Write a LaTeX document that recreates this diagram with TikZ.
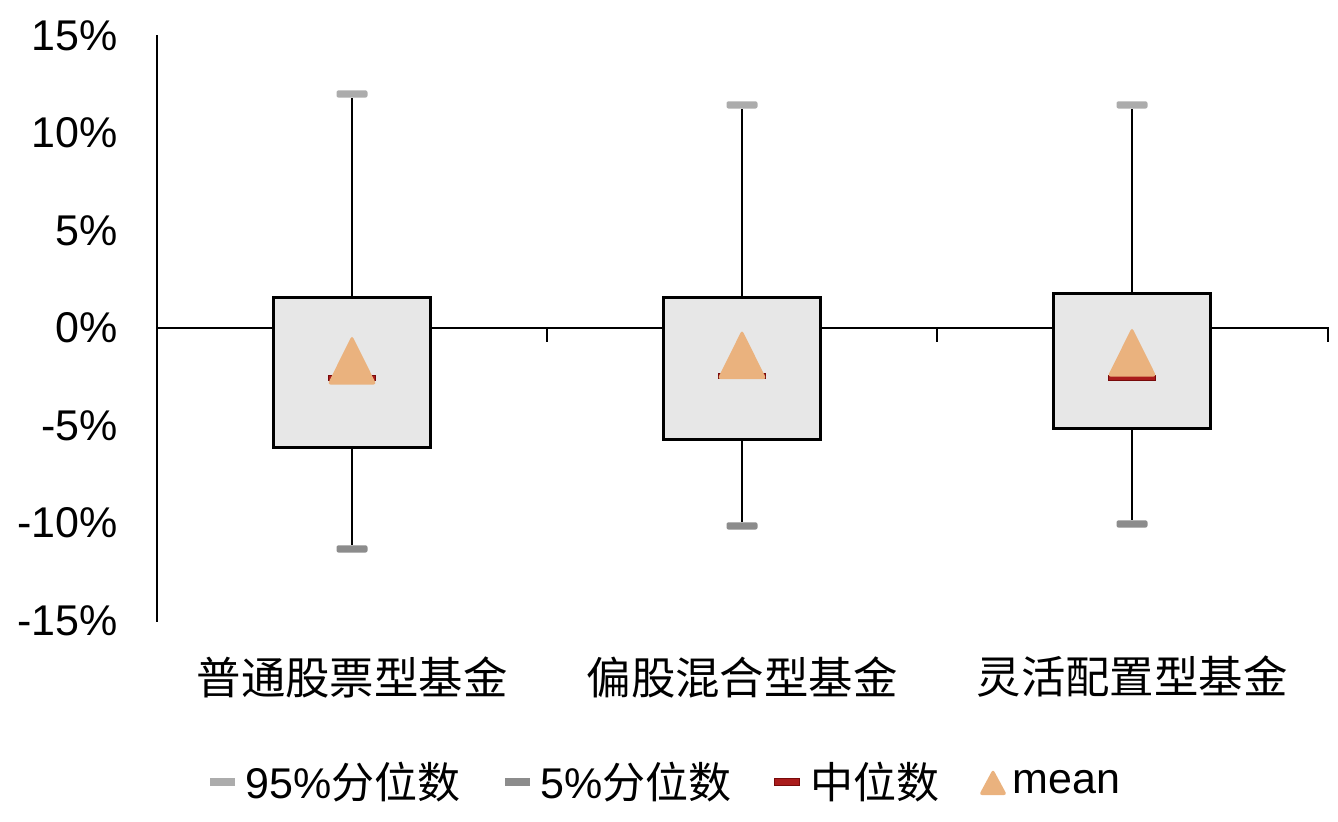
\documentclass[tikz,border=0pt]{standalone}
\usepackage{fontspec}
\setmainfont{Liberation Sans}
\newfontfamily\cjk{Noto Sans CJK SC}
\usepackage{tikz}
\usetikzlibrary{positioning}
\definecolor{boxgray}{RGB}{231,231,231}
\definecolor{capup}{RGB}{172,172,172}
\definecolor{capdn}{RGB}{140,140,140}
\definecolor{medred}{RGB}{170,28,28}
\definecolor{medline}{RGB}{120,10,10}
\definecolor{meanpeach}{RGB}{234,178,126}
\tikzstyle{axisline} = [draw, line width=1.2pt, black]
\tikzstyle{whisk} = [draw, line width=1.2pt, black]
\tikzstyle{qbox} = [draw, line width=1.5pt, fill=boxgray, rectangle, minimum width=78.5pt, inner sep=0pt]
\tikzstyle{whiskcap} = [rectangle, rounded corners=1pt, minimum width=15.5pt, minimum height=3.6pt, inner sep=0pt]
\tikzstyle{medbar} = [rectangle, fill=medred, draw=medline, line width=0.4pt, minimum width=23.5pt, minimum height=2.5pt, inner sep=0pt]
\tikzstyle{meanmk} = [fill=meanpeach, rounded corners=1.5pt]
\tikzstyle{ylab} = [anchor=east, inner sep=0pt, font=\fontsize{21.5}{24}\selectfont]
\tikzstyle{catlab} = [inner sep=0pt, font=\cjk\fontsize{22.2}{24}\selectfont]
\tikzstyle{lgmark} = [rectangle, minimum width=12.5pt, minimum height=3.6pt, inner sep=0pt]
\tikzstyle{legtxt} = [inner sep=0pt, font=\fontsize{21.5}{24}\selectfont]

\begin{document}
\begin{tikzpicture}[x=0.5pt, y=9.75pt]
    \useasboundingbox (0,-25.33) rectangle (1338,16.82);
    % axes
    \draw[axisline] (157,15) -- (157,-15.08);
    \draw[axisline] (157,0) -- (1328,0) -- (1328,-0.72);
    \draw[axisline] (547,0) -- (547,-0.72);
    \draw[axisline] (937,0) -- (937,-0.72);
    \foreach \v in {15,10,...,-15}
        \node[ylab] (y\v) at (118,\v) {\v\%};
    % boxes
    \foreach \i/\cx/\hi/\qa/\qb/\lo/\md/\mn/\lab in {
        1/352/12.0/1.54/-6.15/-11.33/-2.56/-1.64/普通股票型基金,
        2/742/11.44/1.56/-5.74/-10.15/-2.46/-1.36/偏股混合型基金,
        3/1132/11.44/1.79/-5.13/-10.05/-2.58/-1.23/灵活配置型基金} {
        \pgfmathsetmacro\bh{(\qa-\qb)*9.75}
        \node[qbox, minimum height=\bh pt] (bx\i) at (\cx,{(\qa+\qb)/2}) {};
        \node[whiskcap, fill=capup] (hi\i) at (\cx,\hi) {};
        \node[whiskcap, fill=capdn] (lo\i) at (\cx,\lo) {};
        \draw[whisk] (bx\i.north) -- (hi\i.south);
        \draw[whisk] (bx\i.south) -- (lo\i.north);
        \node[medbar] (md\i) at (\cx,\md) {};
        \coordinate (mn\i) at (\cx,\mn);
        \fill[meanmk] (mn\i) ++(-24.5,-1.26) -- ++(24.5,2.52) -- ++(24.5,-2.52) -- cycle;
        \node[catlab] (c\i) at (\cx,-17.9) {\lab};
    }
    % legend
    \node[lgmark, fill=capup] (lg95) at (222.5,-23.28) {};
    \node[legtxt, right=5pt of lg95] (lt95) {95\%{\cjk 分位数}};
    \node[lgmark, fill=capdn] (lg5) at (517.5,-23.28) {};
    \node[legtxt, right=5pt of lg5] (lt5) {5\%{\cjk 分位数}};
    \node[lgmark, fill=medred, draw=medline, line width=0.4pt] (lgmd) at (786.5,-23.28) {};
    \node[legtxt, right=5.5pt of lgmd] (ltmd) {\cjk 中位数};
    \coordinate (lgmn) at (1007,-23.28);
    \fill[meanmk] (lgmn) ++(-28,-0.67) -- ++(14,1.33) -- ++(14,-1.33) -- cycle;
    \node[legtxt, right=2.5pt of lgmn] (ltmn) {mean};
\end{tikzpicture}
\end{document}
